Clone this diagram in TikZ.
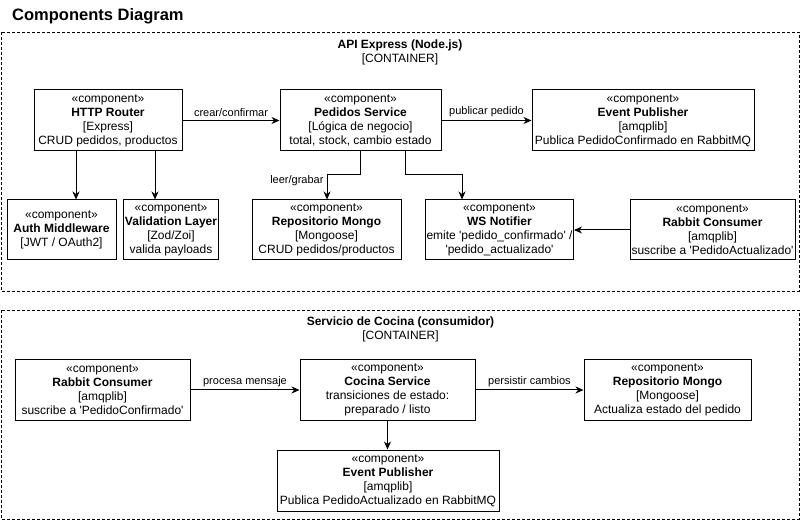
\documentclass[tikz,border=0pt]{standalone}
\usepackage{fontspec}
\setmainfont{Liberation Sans}[Ligatures=TeXOff]
\usetikzlibrary{arrows.meta}
\newcommand{\compbox}[2]{«component»\\\textbf{#1}\\{}#2}

\begin{document}
\begin{tikzpicture}[x=1pt,y=-1pt,
		comp/.style={draw, line width=1pt, align=center, inner sep=1pt, font=\fontsize{12}{14}\selectfont},
		cont/.style={draw, line width=0.9pt, dash pattern=on 3pt off 2pt},
		ctitle/.style={align=center, inner sep=0pt, font=\fontsize{12}{14.5}\selectfont},
		flow/.style={-{Stealth[length=8pt,width=7pt,inset=2.5pt]}, line width=1pt},
		lbl/.style={font=\fontsize{11}{13}\selectfont, inner sep=1pt}]
				\useasboundingbox (0,0) rectangle (801,521);
				
				\node[anchor=base west, inner sep=0pt, font=\fontsize{16.5}{18}\selectfont\bfseries] (title) at (12,20.5) {Components Diagram};
				
				\draw[cont] (1,32) rectangle (799,291);
				\node[ctitle] (apiTitle) at (400,52.5) {\textbf{API Express (Node.js)}\\{}[CONTAINER]};
				
				\node[comp, minimum width=148, minimum height=61] (router) at (108,120.5) {\compbox{HTTP Router}{[Express]\\CRUD pedidos, productos}};
				\node[comp, minimum width=161, minimum height=61] (pedidos) at (360.5,120.5) {\compbox{Pedidos Service}{[Lógica de negocio]\\total, stock, cambio estado}};
				\node[comp, minimum width=222, minimum height=61] (pubA) at (643,120.5) {\compbox{Event Publisher}{[amqplib]\\Publica PedidoConfirmado en RabbitMQ}};
				
				\node[comp, minimum width=109, minimum height=60] (auth) at (61.5,230) {\compbox{Auth Middleware}{[JWT / OAuth2]}};
				\node[comp, minimum width=92, minimum height=60] (valid) at (171,230) {\compbox{Validation Layer}{[Zod/Zoi]\\valida payloads}};
				\node[comp, minimum width=149, minimum height=60] (repoA) at (326.5,230) {\compbox{Repositorio Mongo}{[Mongoose]\\CRUD pedidos/productos}};
				\node[comp, minimum width=147, minimum height=60] (ws) at (499.5,230) {«component»\\\textbf{WS Notifier}\\emite 'pedido\_confirmado' /\\'pedido\_actualizado'};
				\node[comp, minimum width=165, minimum height=60] (rabbitA) at (712.5,230) {\compbox{Rabbit Consumer}{[amqplib]\\suscribe a 'PedidoActualizado'}};
				
				\draw[flow] (router.south -| 76,0) -- (auth.north -| 76,0);
				\draw[flow] (router.south -| 155,0) -- (valid.north -| 155,0);
				\draw[flow] (router) -- node[lbl, above=2pt] {crear/confirmar} (pedidos);
				\draw[flow] (pedidos) -- node[lbl, above=2pt] {publicar pedido} (pubA);
				\draw[flow] (pedidos.south -| 360,0) |- (327,175) -- node[lbl, left=2pt, pos=0.24] {leer/grabar} (repoA.north -| 327,0);
				\draw[flow] (pedidos.south -| 405,0) |- (462,175) -- (ws.north -| 462,0);
				\draw[flow] (rabbitA) -- (ws);
				
				\draw[cont] (1,310) rectangle (799,519);
				\node[ctitle] (cocinaTitle) at (400.5,329.5) {\textbf{Servicio de Cocina (consumidor)}\\{}[CONTAINER]};
				
				\node[comp, minimum width=175, minimum height=60] (rabbitB) at (102.5,390) {\compbox{Rabbit Consumer}{[amqplib]\\suscribe a 'PedidoConfirmado'}};
				\node[comp, minimum width=175, minimum height=60] (cocina) at (387.5,390) {\compbox{Cocina Service}{transiciones de estado:\\preparado / listo}};
				\node[comp, minimum width=167, minimum height=60] (repoB) at (667.5,390) {\compbox{Repositorio Mongo}{[Mongoose]\\Actualiza estado del pedido}};
				\node[comp, minimum width=222, minimum height=61] (pubB) at (388,480.5) {\compbox{Event Publisher}{[amqplib]\\Publica PedidoActualizado en RabbitMQ}};
				
				\draw[flow] (rabbitB) -- node[lbl, above=2pt] {procesa mensaje} (cocina);
				\draw[flow] (cocina) -- node[lbl, above=2pt] {persistir cambios} (repoB);
				\draw[flow] (cocina.south) -- (pubB.north -| cocina.south);
			\end{tikzpicture}
\end{document}
